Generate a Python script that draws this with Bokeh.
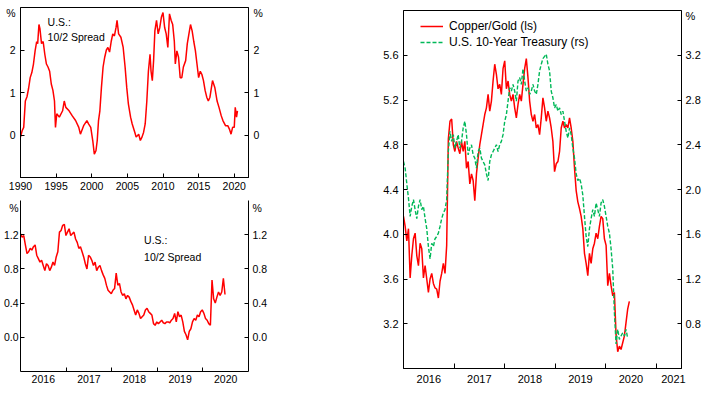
import pandas as pd
from bokeh.plotting import figure
from bokeh.models import (Range1d, LinearAxis, FixedTicker, Legend,
                          LegendItem, CustomJSTickFormatter, Label)
from bokeh.layouts import row, column
from bokeh.embed import file_html
from bokeh.resources import INLINE

FONT = "Liberation Sans"
RED = "#FF0000"
GREEN = "#00B858"

# ---------------- data: U.S. 10/2 spread, 1990-2020 (%) ----------------
long_years = [1990.0, 1990.23, 1990.45, 1990.68, 1990.91, 1991.14, 1991.36, 1991.59, 1991.82,
              1992.05, 1992.27, 1992.41, 1992.59, 1992.73, 1992.95, 1993.18, 1993.41, 1993.64,
              1993.86, 1994.09, 1994.32, 1994.55, 1994.77, 1994.91, 1995.09, 1995.45, 1995.91,
              1996.14, 1996.36, 1996.82, 1997.27, 1997.73, 1998.18, 1998.41, 1998.86, 1999.32,
              1999.55, 1999.86, 2000.14, 2000.36, 2000.59, 2000.77, 2000.95, 2001.14, 2001.36,
              2001.59, 2001.82, 2002.05, 2002.27, 2002.5, 2002.73, 2002.95, 2003.18, 2003.41,
              2003.55, 2003.77, 2004.09, 2004.41, 2004.68, 2004.91, 2005.14, 2005.45, 2005.68,
              2006.05, 2006.23, 2006.59, 2006.82, 2007.05, 2007.27, 2007.5, 2007.73, 2007.95,
              2008.18, 2008.32, 2008.5, 2008.68, 2008.86, 2009.09, 2009.32, 2009.55, 2009.77,
              2010.0, 2010.23, 2010.45, 2010.68, 2010.91, 2011.14, 2011.36, 2011.59, 2011.73,
              2011.95, 2012.18, 2012.41, 2012.64, 2012.86, 2013.18, 2013.41, 2013.64, 2013.86,
              2014.09, 2014.32, 2014.55, 2014.77, 2015.0, 2015.23, 2015.45, 2015.68, 2015.91,
              2016.14, 2016.36, 2016.59, 2016.95, 2017.27, 2017.59, 2017.86, 2018.18, 2018.41,
              2018.77, 2019.09, 2019.32, 2019.55, 2019.77, 2020.0, 2020.14, 2020.32, 2020.45]
long_spread = [-0.05, 0.10, 0.18, 0.80, 0.90, 1.10, 1.35, 1.47, 1.67,
               1.98, 2.20, 2.15, 2.60, 2.50, 2.15, 2.20, 1.90, 1.67,
               1.60, 1.50, 1.20, 1.05, 0.80, 0.18, 0.50, 0.42, 0.57,
               0.80, 0.65, 0.57, 0.45, 0.34, 0.18, 0.02, 0.22, 0.34,
               0.26, 0.18, -0.13, -0.45, -0.37, -0.13, 0.34, 0.57, 1.12,
               1.60, 1.83, 2.00, 2.06, 1.95, 2.20, 2.38, 2.33, 2.53,
               2.70, 2.38, 2.30, 2.06, 1.60, 1.12, 0.73, 0.42, 0.26,
               0.06, -0.05, 0.02, -0.13, -0.05, 0.06, 0.26, 0.80, 1.50,
               1.90, 1.50, 1.28, 1.75, 2.45, 2.70, 2.38, 2.53, 2.77,
               2.88, 2.53, 2.38, 2.06, 2.85, 2.70, 2.60, 2.20, 1.67,
               1.98, 1.83, 1.35, 1.35, 1.60, 1.75, 2.15, 2.38, 2.60,
               2.45, 2.20, 1.98, 1.67, 1.35, 1.50, 1.43, 1.28, 1.05,
               0.89, 0.80, 0.89, 1.28, 1.12, 0.80, 0.65, 0.45, 0.34,
               0.22, 0.22, 0.14, 0.02, 0.18, 0.18, 0.65, 0.42, 0.57]
long_ticks = [1990, 1995, 2000, 2005, 2010, 2015, 2020]
long_yticks = [0, 1, 2]

# ---------------- data: U.S. 10/2 spread, 2016-2020 (%) ----------------
short_dates = pd.date_range("2016-01-01", periods=127, freq="13D")
short_spread = [1.21, 1.17, 1.19, 1.08, 0.98, 1.00, 1.04, 1.02, 1.06, 1.08, 0.96, 0.92, 0.88,
                0.90, 0.84, 0.78, 0.86, 0.84, 0.78, 0.82, 0.88, 0.84, 0.94, 1.00, 1.23, 1.25,
                1.31, 1.32, 1.19, 1.23, 1.27, 1.19, 1.21, 1.23, 1.15, 1.11, 1.04, 1.06, 1.00,
                0.94, 0.86, 0.80, 0.96, 0.94, 0.90, 0.84, 0.88, 0.78, 0.82, 0.84, 0.78, 0.73,
                0.69, 0.61, 0.55, 0.53, 0.51, 0.55, 0.57, 0.75, 0.61, 0.63, 0.53, 0.49, 0.51,
                0.45, 0.49, 0.47, 0.42, 0.38, 0.32, 0.26, 0.32, 0.28, 0.22, 0.24, 0.26, 0.32,
                0.34, 0.30, 0.28, 0.26, 0.16, 0.14, 0.18, 0.16, 0.18, 0.20, 0.17, 0.16, 0.18,
                0.18, 0.17, 0.20, 0.22, 0.28, 0.18, 0.30, 0.24, 0.26, 0.18, 0.07, 0.03, -0.03,
                0.07, 0.10, 0.18, 0.22, 0.20, 0.26, 0.24, 0.30, 0.32, 0.28, 0.22, 0.20, 0.16,
                0.14, 0.67, 0.45, 0.40, 0.47, 0.53, 0.49, 0.53, 0.69, 0.50]
short_yticks = [0.0, 0.4, 0.8, 1.2]
year_labels_short = [2016, 2017, 2018, 2019, 2020]

# ---------------- data: Copper/Gold ratio & U.S. 10-year Treasury ----------------
cg_dates = pd.date_range("2016-01-01", periods=137, freq="12D")
copper_gold = [4.16, 4.07, 3.94, 4.05, 3.61, 3.81, 3.96, 4.01, 3.81, 3.72, 3.92, 3.87, 3.61,
               3.72, 3.60, 3.48, 3.60, 3.65, 3.56, 3.52, 3.51, 3.43, 3.58, 3.65, 3.74, 3.65,
               3.90, 4.85, 5.01, 5.03, 4.80, 4.74, 4.83, 4.77, 4.72, 4.83, 4.74, 4.83, 4.59,
               4.65, 4.45, 4.54, 4.48, 4.30, 4.54, 4.68, 4.80, 4.89, 4.98, 5.07, 5.13, 5.25,
               5.10, 5.19, 5.37, 5.52, 5.43, 5.30, 5.34, 5.25, 5.48, 5.55, 5.30, 5.37, 5.25,
               5.19, 5.25, 5.13, 5.04, 5.16, 5.25, 5.19, 5.34, 5.48, 5.57, 5.40, 5.19, 5.07,
               5.01, 5.07, 4.95, 4.98, 4.89, 5.04, 5.22, 5.13, 5.01, 5.10, 5.04, 4.95, 4.83,
               4.56, 4.63, 4.65, 4.74, 4.95, 5.01, 4.95, 4.98, 4.95, 5.04, 4.95, 4.83, 4.59,
               4.39, 4.29, 4.23, 4.16, 4.05, 3.83, 3.74, 3.63, 3.83, 3.74, 3.87, 3.92, 4.01,
               3.96, 4.07, 4.16, 4.14, 3.96, 3.90, 3.54, 3.65, 3.54, 3.45, 3.48, 3.10, 2.95,
               3.00, 2.97, 3.03, 3.09, 3.21, 3.33, 3.40]
ust10 = [2.25, 2.19, 2.05, 1.92, 1.76, 1.85, 1.91, 1.82, 1.74, 1.85, 1.91, 1.82, 1.85,
         1.74, 1.65, 1.49, 1.38, 1.52, 1.49, 1.56, 1.58, 1.61, 1.67, 1.74, 1.79, 1.82,
         1.91, 2.34, 2.52, 2.43, 2.49, 2.37, 2.43, 2.49, 2.37, 2.43, 2.55, 2.61, 2.49,
         2.31, 2.37, 2.40, 2.31, 2.28, 2.19, 2.34, 2.37, 2.28, 2.25, 2.22, 2.14, 2.08,
         2.25, 2.31, 2.34, 2.37, 2.40, 2.34, 2.40, 2.43, 2.49, 2.61, 2.67, 2.79, 2.91,
         2.88, 2.94, 2.88, 2.79, 2.97, 3.00, 2.94, 3.08, 2.97, 2.88, 2.91, 2.85, 2.88,
         2.94, 2.88, 2.85, 2.94, 3.06, 3.12, 3.17, 3.19, 3.21, 3.12, 3.06, 2.88, 2.82,
         2.73, 2.76, 2.70, 2.73, 2.67, 2.70, 2.61, 2.52, 2.46, 2.55, 2.49, 2.37, 2.28,
         2.14, 2.08, 2.10, 2.05, 1.95, 1.76, 1.58, 1.49, 1.65, 1.74, 1.82, 1.76, 1.88,
         1.82, 1.76, 1.88, 1.91, 1.85, 1.76, 1.67, 1.61, 1.47, 1.29, 0.90, 0.62, 0.75,
         0.66, 0.69, 0.72, 0.69, 0.75, 0.67]
cg_left_ticks = [3.2, 3.6, 4.0, 4.4, 4.8, 5.2, 5.6]
cg_right_ticks = [0.8, 1.2, 1.6, 2.0, 2.4, 2.8, 3.2]
year_labels_cg = [2016, 2017, 2018, 2019, 2020, 2021]
unit_label = "%"


def dec_year(dates):
    return list(dates.year + (dates.dayofyear - 1) / 365.25)


def style_axis(ax, size="10.5px", standoff=4):
    ax.axis_line_color = "black"
    ax.axis_line_width = 1
    ax.major_tick_in = 4
    ax.major_tick_out = 0
    ax.major_tick_line_color = "black"
    ax.minor_tick_in = 0
    ax.minor_tick_out = 0
    ax.minor_tick_line_color = "black"
    ax.major_label_text_font = FONT
    ax.major_label_text_font_size = size
    ax.major_label_text_color = "black"
    ax.major_label_standoff = standoff


def unit_axis(ax, ticks, unit_pos, digits, size="10.5px", standoff=4):
    """Value ticks as (unlabelled) tick marks; labels for values plus the unit sign."""
    style_axis(ax, size=size, standoff=standoff)
    ax.ticker = FixedTicker(ticks=list(ticks) + [unit_pos], minor_ticks=list(ticks))
    ax.formatter = CustomJSTickFormatter(
        args=dict(u=unit_pos, d=digits, s=unit_label),
        code="return Math.abs(tick - u) < 1e-6 ? s : tick.toFixed(d);")
    ax.major_tick_in = 0
    ax.minor_tick_in = 4


def base_fig(**kw):
    p = figure(output_backend="svg", toolbar_location=None, **kw)
    p.xgrid.visible = False
    p.ygrid.visible = False
    p.background_fill_color = "white"
    p.border_fill_color = "white"
    return p


def data_label(p, x, y, t, size="10.5px"):
    p.add_layout(Label(x=x, y=y, text=t, text_font=FONT, text_font_size=size,
                       text_color="black", text_align="left", text_baseline="middle"))


year_fmt = CustomJSTickFormatter(code="return String(Math.floor(tick));")

# ---------- top-left panel ----------
p1 = base_fig(width=270, height=196, x_range=Range1d(1990, 2022), y_range=Range1d(-1, 3),
              min_border_left=18, min_border_right=18, min_border_top=7, min_border_bottom=19)
p1.outline_line_color = "black"
p1.line(long_years, long_spread, color=RED, line_width=1.5)
p1.xaxis.ticker = FixedTicker(ticks=long_ticks)
for ax in p1.xaxis:
    style_axis(ax, standoff=4)
ax1r = LinearAxis()
p1.add_layout(ax1r, "right")
for ax in p1.yaxis:
    unit_axis(ax, long_yticks, 2.87, 0, standoff=5)
unit_axis(ax1r, long_yticks, 2.87, 0, standoff=5)
data_label(p1, 1993.8, 2.66, "U.S.:")
data_label(p1, 1993.8, 2.30, "10/2 Spread")

# ---------- bottom-left panel ----------
p2 = base_fig(width=270, height=200, x_range=Range1d(2016, 2021), y_range=Range1d(-0.4, 1.6),
              min_border_left=18, min_border_right=18, min_border_top=4, min_border_bottom=25)
p2.outline_line_color = None
p2.line(dec_year(short_dates), short_spread, color=RED, line_width=1.5)
p2.xaxis.ticker = FixedTicker(ticks=[y + 0.5 for y in year_labels_short],
                              minor_ticks=year_labels_short[1:])
p2.xaxis.formatter = year_fmt
ax2r = LinearAxis()
p2.add_layout(ax2r, "right")
for ax in p2.yaxis:
    unit_axis(ax, short_yticks, 1.516, 1, standoff=2)
unit_axis(ax2r, short_yticks, 1.516, 1, standoff=4)
for ax in p2.xaxis:
    style_axis(ax, standoff=3)
    ax.major_tick_in = 0
    ax.minor_tick_in = 4
data_label(p2, 2018.71, 1.14, "U.S.:")
data_label(p2, 2018.71, 0.944, "10/2 Spread")

# ---------- right panel ----------
p3 = base_fig(width=437, height=396, x_range=Range1d(2016, 2021.5), y_range=Range1d(2.8, 6.0),
              min_border_left=133, min_border_right=26, min_border_top=10, min_border_bottom=28)
p3.extra_y_ranges = {"r": Range1d(0.4, 3.6)}
p3.outline_line_color = "black"
cg_x = dec_year(cg_dates)
r_cg = p3.line(cg_x, copper_gold, color=RED, line_width=1.5)
r_ust = p3.line(cg_x[:len(ust10)], ust10, color=GREEN, line_width=1.4, line_dash="4 2",
                y_range_name="r")
p3.xaxis.ticker = FixedTicker(ticks=[2016.5, 2017.5, 2018.5, 2019.5, 2020.5, 2021.34],
                              minor_ticks=year_labels_cg[1:])
p3.xaxis.formatter = year_fmt
p3.yaxis.ticker = FixedTicker(ticks=cg_left_ticks)
p3.yaxis.formatter = CustomJSTickFormatter(code="return tick.toFixed(1);")
ax3r = LinearAxis(y_range_name="r")
p3.add_layout(ax3r, "right")
for ax in p3.yaxis:
    style_axis(ax, size="11px", standoff=5)
unit_axis(ax3r, cg_right_ticks, 3.555, 1, size="11px", standoff=4)
for ax in p3.xaxis:
    style_axis(ax, size="11px", standoff=6)
    ax.major_tick_in = 0
    ax.minor_tick_in = 5

legend = Legend(items=[LegendItem(label="Copper/Gold (ls)", renderers=[r_cg]),
                       LegendItem(label="U.S. 10-Year Treasury (rs)", renderers=[r_ust])],
                location=(17, 318), padding=6, margin=0, spacing=0,
                glyph_width=23, glyph_height=16, label_height=16, label_standoff=6,
                border_line_color=None, background_fill_color="white",
                background_fill_alpha=1.0,
                label_text_font=FONT, label_text_font_size="12px", label_text_color="black")
p3.add_layout(legend)

layout = row(column(p1, p2), p3)

open("out.html", "w").write(file_html(layout, INLINE))
